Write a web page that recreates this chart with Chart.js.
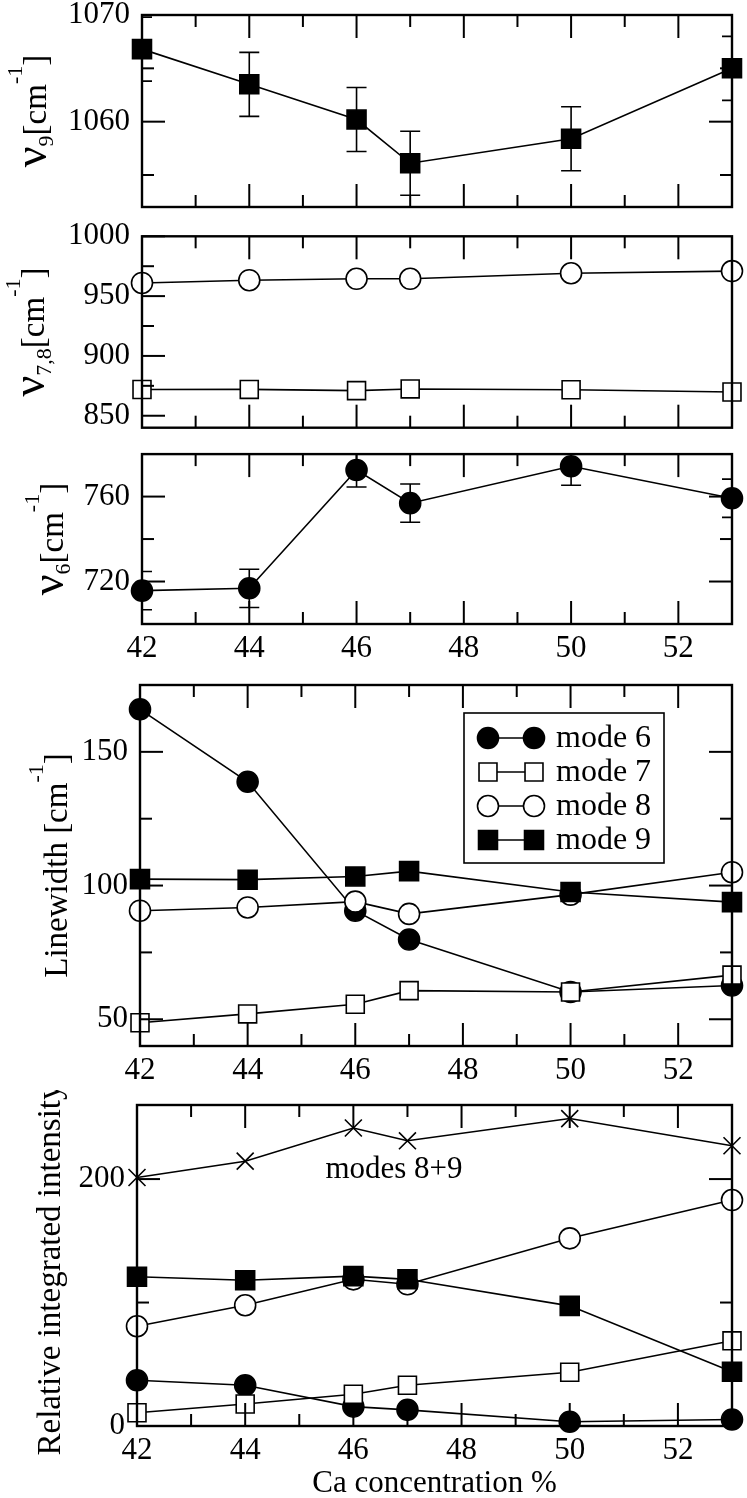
<!DOCTYPE html>
<html lang="en">
<head>
  <meta charset="UTF-8">
  <title>Mode frequencies vs Ca concentration</title>
  <script src="https://cdn.jsdelivr.net/npm/chart.js@4.4.1/dist/chart.umd.min.js"></script>
  <style>
    body { margin: 0; background: #fff; }
    #wrap { position: relative; width: 747px; height: 1498px; }
    canvas { position: absolute; left: 0; }
  </style>
</head>
<body>
  <div id="wrap">
    <canvas id="p1" width="747" height="222" style="top:0px"></canvas>
    <canvas id="p2" width="747" height="220" style="top:222px"></canvas>
    <canvas id="p3" width="747" height="228" style="top:442px"></canvas>
    <canvas id="p4" width="747" height="420" style="top:670px"></canvas>
    <canvas id="p5" width="747" height="408" style="top:1090px"></canvas>
  </div>

  <script>
    // Ca concentration (%)
    const ca = [42, 44, 46, 47, 50, 53];
    const xLabels = [42, 44, 46, 48, 50, 52];
    const xMajor = [44, 46, 48, 50, 52];
    const xMinor = [43, 45, 47, 49, 51];

    // nu9
    const nu9 = [1066.8, 1063.5, 1060.2, 1056.1, 1058.4, 1065.0];
    const nu9Err = [3, 3, 3, 3, 3, 3];
    const nu9Ticks = [1060, 1070];
    const nu9Minor = [1055, 1065];

    // nu7, nu8
    const nu8 = [961, 963.3, 964.5, 964.5, 969.1, 970.9];
    const nu7 = [871.9, 872, 871, 872.4, 871.7, 869.8];
    const nu78Ticks = [850, 900, 950, 1000];
    const nu78Minor = [875, 925, 975];

    // nu6
    const nu6 = [715.7, 716.8, 772.5, 756.9, 774.3, 759.2];
    const nu6Err = [9, 9, 8, 9, 9, 9];
    const nu6Ticks = [720, 760];
    const nu6Minor = [740];

    // linewidth
    const modeNames = ['mode 6', 'mode 7', 'mode 8', 'mode 9'];
    const lw6 = [165.9, 138.8, 90.6, 79.8, 60.2, 62.6];
    const lw7 = [48.7, 52, 55.6, 60.7, 60.2, 66.5];
    const lw8 = [90.6, 91.8, 94.0, 89.4, 96.6, 105];
    const lw9 = [102.4, 102.2, 103.4, 105.4, 97.6, 93.8];
    const lwTicks = [50, 100, 150];
    const lwMinor = [75, 125];

    // relative integrated intensity
    const in89 = [201.3, 214.5, 241.4, 231, 249, 227];
    const in9 = [120.9, 118, 121.4, 118.8, 97.3, 44];
    const in8 = [80.8, 97.8, 118.8, 114.8, 152, 183];
    const in6 = [37, 33, 15.7, 13.1, 3.4, 5.3];
    const in7 = [10.7, 17.8, 25.7, 33, 43.5, 69];
    const inTicks = [0, 200];
    const inMinor = [100];

    const FONT = '"Liberation Serif", "Times New Roman", serif';

    const MARK = {
      fcircle: { style: 'circle', r: 10.5, fill: '#000' },
      ocircle: { style: 'circle', r: 10.5, fill: '#fff' },
      fsquare: { style: 'rect', r: 13.4, fill: '#000' },
      osquare: { style: 'rect', r: 12.7, fill: '#fff' },
      cross: { style: 'crossRot', r: 12, fill: '#000' }
    };

    function series(label, ys, m, order) {
      return {
        label: label,
        data: ca.map((x, i) => ({ x: x, y: ys[i] })),
        borderColor: '#000',
        borderWidth: 1.6,
        pointStyle: m.style,
        pointRadius: m.r,
        pointHoverRadius: m.r,
        pointBackgroundColor: m.fill,
        pointBorderColor: '#000',
        pointBorderWidth: 1.6,
        showLine: true,
        tension: 0,
        fill: false,
        clip: false,
        order: order || 0
      };
    }

    // rotated axis title with sub/superscripts
    const N = t => ({ t: t, s: 33, dy: 0 });
    const NU = { t: 'ν', s: 46, dy: 0 };
    const SUB = t => ({ t: t, s: 22, dy: 7 });
    const SUP = t => ({ t: t, s: 22, dy: -24 });

    function drawRotated(ctx, bx, cy, parts) {
      ctx.save();
      ctx.fillStyle = '#000';
      ctx.textBaseline = 'alphabetic';
      ctx.textAlign = 'left';
      let total = 0;
      const w = parts.map(p => {
        ctx.font = p.s + 'px ' + FONT;
        const m = ctx.measureText(p.t).width;
        total += m;
        return m;
      });
      ctx.translate(bx, cy);
      ctx.rotate(-Math.PI / 2);
      let x = -total / 2;
      parts.forEach((p, i) => {
        ctx.font = p.s + 'px ' + FONT;
        ctx.fillText(p.t, x, p.dy);
        x += w[i];
      });
      ctx.restore();
    }

    // frame, inward ticks, error bars, y title, extra text
    function decor(cfg) {
      return {
        id: 'decor',
        beforeDatasetsDraw(chart) {
          if (!cfg.err) return;
          const { ctx, chartArea: a, scales: { x, y } } = chart;
          ctx.save();
          ctx.beginPath();
          ctx.rect(a.left, a.top, a.right - a.left, a.bottom - a.top);
          ctx.clip();
          ctx.strokeStyle = '#000';
          ctx.lineWidth = 1.6;
          cfg.errY.forEach((v, i) => {
            const px = x.getPixelForValue(ca[i]);
            const t = y.getPixelForValue(v + cfg.err[i]);
            const b = y.getPixelForValue(v - cfg.err[i]);
            ctx.beginPath();
            ctx.moveTo(px, t); ctx.lineTo(px, b);
            ctx.moveTo(px - 10, t); ctx.lineTo(px + 10, t);
            ctx.moveTo(px - 10, b); ctx.lineTo(px + 10, b);
            ctx.stroke();
          });
          ctx.restore();
        },
        afterDatasetsDraw(chart) {
          const { ctx, chartArea: a, scales: { x, y } } = chart;
          ctx.save();
          ctx.strokeStyle = '#000';
          ctx.lineWidth = 2;
          const tick = (px, py, dx, dy) => {
            ctx.beginPath(); ctx.moveTo(px, py); ctx.lineTo(px + dx, py + dy); ctx.stroke();
          };
          xMajor.forEach(v => { const p = x.getPixelForValue(v); tick(p, a.bottom, 0, -23); tick(p, a.top, 0, 23); });
          xMinor.forEach(v => { const p = x.getPixelForValue(v); tick(p, a.bottom, 0, -12); tick(p, a.top, 0, 12); });
          cfg.yMajor.forEach(v => {
            const p = y.getPixelForValue(v);
            tick(a.left, p, 23, 0);
            if (cfg.mirror) tick(a.right, p, -23, 0);
          });
          cfg.yMinor.forEach(v => {
            const p = y.getPixelForValue(v);
            tick(a.left, p, 12, 0);
            if (cfg.mirror) tick(a.right, p, -12, 0);
          });
          ctx.lineWidth = 2.4;
          ctx.strokeRect(a.left, a.top, a.right - a.left, a.bottom - a.top);
          ctx.restore();

          drawRotated(ctx, cfg.titleX, (a.top + a.bottom) / 2 + (cfg.titleDy || 0), cfg.title);

          if (cfg.note) {
            ctx.save();
            ctx.fillStyle = '#000';
            ctx.font = '31px ' + FONT;
            ctx.textAlign = 'center';
            ctx.textBaseline = 'middle';
            ctx.fillText(cfg.note.text, cfg.note.x, cfg.note.y);
            ctx.restore();
          }

          if (cfg.legend) {
            const L = cfg.legend;
            ctx.save();
            ctx.fillStyle = '#fff';
            ctx.fillRect(L.x, L.y, L.w, L.h);
            ctx.strokeStyle = '#000';
            ctx.lineWidth = 1.6;
            ctx.strokeRect(L.x, L.y, L.w, L.h);
            chart.data.datasets.forEach((ds, i) => {
              const ry = L.rows[i];
              ctx.beginPath();
              ctx.moveTo(L.s1, ry); ctx.lineTo(L.s2, ry);
              ctx.stroke();
              ctx.fillStyle = ds.pointBackgroundColor;
              ctx.strokeStyle = '#000';
              ctx.lineWidth = 1.6;
              const o = { pointStyle: ds.pointStyle, radius: ds.pointRadius, borderWidth: 1.6, rotation: 0 };
              Chart.helpers.drawPoint(ctx, o, L.s1, ry);
              Chart.helpers.drawPoint(ctx, o, L.s2, ry);
              ctx.fillStyle = '#000';
              ctx.font = '32px ' + FONT;
              ctx.textAlign = 'left';
              ctx.textBaseline = 'middle';
              ctx.fillText(ds.label, L.tx, ry + 1);
            });
            ctx.restore();
          }
        }
      };
    }

    function options(p) {
      return {
        responsive: false,
        animation: false,
        events: [],
        layout: { padding: { left: 0, right: p.padR, top: p.padT, bottom: p.padB || 0 } },
        plugins: { legend: { display: false }, tooltip: { enabled: false } },
        scales: {
          x: {
            type: 'linear', min: 42, max: 53,
            display: p.showX,
            grid: { display: false, drawTicks: false },
            border: { display: false },
            afterBuildTicks: s => { s.ticks = xLabels.map(v => ({ value: v })); },
            afterFit: s => { s.height = p.xH; s.paddingLeft = 0; s.paddingRight = 0; },
            ticks: {
              font: { family: FONT, size: 31 }, color: '#000', padding: 6,
              maxRotation: 0, autoSkip: false, callback: v => String(v)
            },
            title: {
              display: !!p.xTitle, text: p.xTitle || '', color: '#000',
              font: { family: FONT, size: 31 }, padding: { top: 0, bottom: -4 }
            }
          },
          y: {
            type: 'linear', min: p.yMin, max: p.yMax,
            grid: { display: false, drawTicks: false },
            border: { display: false },
            afterBuildTicks: s => { s.ticks = p.yTicks.map(v => ({ value: v })); },
            afterFit: s => { s.width = p.left; s.paddingTop = 0; s.paddingBottom = 0; },
            ticks: {
              font: { family: FONT, size: 31 }, color: '#000', padding: 12,
              callback: v => String(v)
            }
          }
        }
      };
    }

    // panel 1: nu9
    new Chart(document.getElementById('p1'), {
      type: 'scatter',
      data: { datasets: [series('mode 9', nu9, MARK.fsquare)] },
      options: options({ padR: 15, padT: 15, padB: 12, showX: false, xH: 0, yMin: 1052, yMax: 1070, yTicks: nu9Ticks, left: 142 }),
      plugins: [decor({
        err: nu9Err, errY: nu9, yMajor: nu9Ticks, yMinor: nu9Minor, mirror: true,
        titleX: 46, title: [NU, SUB('9'), N('[cm'), SUP('-1'), N(']')]
      })]
    });

    // panel 2: nu7, nu8
    new Chart(document.getElementById('p2'), {
      type: 'scatter',
      data: { datasets: [series('mode 8', nu8, MARK.ocircle), series('mode 7', nu7, MARK.osquare)] },
      options: options({ padR: 15, padT: 5, padB: 5, showX: false, xH: 0, yMin: 840, yMax: 1000, yTicks: nu78Ticks, left: 142 }),
      plugins: [decor({
        yMajor: nu78Ticks, yMinor: nu78Minor, mirror: false,
        titleX: 44, title: [NU, SUB('7,8'), N('[cm'), SUP('-1'), N(']')]
      })]
    });

    // panel 3: nu6
    new Chart(document.getElementById('p3'), {
      type: 'scatter',
      data: { datasets: [series('mode 6', nu6, MARK.fcircle)] },
      options: options({ padR: 15, padT: 7, showX: true, xH: 46, yMin: 700, yMax: 780, yTicks: nu6Ticks, left: 142 }),
      plugins: [decor({
        err: nu6Err, errY: nu6, yMajor: nu6Ticks, yMinor: nu6Minor, mirror: true,
        titleX: 63, title: [NU, SUB('6'), N('[cm'), SUP('-1'), N(']')]
      })]
    });

    // panel 4: linewidth
    new Chart(document.getElementById('p4'), {
      type: 'scatter',
      data: {
        datasets: [
          series(modeNames[0], lw6, MARK.fcircle, 4),
          series(modeNames[1], lw7, MARK.osquare, 3),
          series(modeNames[2], lw8, MARK.ocircle, 2),
          series(modeNames[3], lw9, MARK.fsquare, 1)
        ]
      },
      options: options({ padR: 14, padT: 3, showX: true, xH: 44, yMin: 40, yMax: 175, yTicks: lwTicks, left: 140 }),
      plugins: [decor({
        yMajor: lwTicks, yMinor: lwMinor, mirror: true,
        titleX: 67, title: [N('Linewidth [cm'), SUP('-1'), N(']')],
        legend: { x: 464, y: 43, w: 200, h: 150, rows: [68, 102, 136, 170], s1: 488, s2: 534, tx: 556 }
      })]
    });

    // panel 5: relative integrated intensity
    new Chart(document.getElementById('p5'), {
      type: 'scatter',
      data: {
        datasets: [
          series('modes 8+9', in89, MARK.cross, 5),
          series(modeNames[0], in6, MARK.fcircle, 4),
          series(modeNames[1], in7, MARK.osquare, 3),
          series(modeNames[2], in8, MARK.ocircle, 2),
          series(modeNames[3], in9, MARK.fsquare, 1)
        ]
      },
      options: options({ padR: 14, padT: 7, showX: true, xH: 72, xTitle: 'Ca concentration %', yMin: 0, yMax: 260, yTicks: inTicks, left: 137 }),
      plugins: [decor({
        yMajor: inTicks, yMinor: inMinor, mirror: true,
        titleX: 60, titleDy: 4, title: [N('Relative integrated intensity')],
        note: { text: 'modes 8+9', x: 394, y: 80 }
      })]
    });
  </script>
</body>
</html>
